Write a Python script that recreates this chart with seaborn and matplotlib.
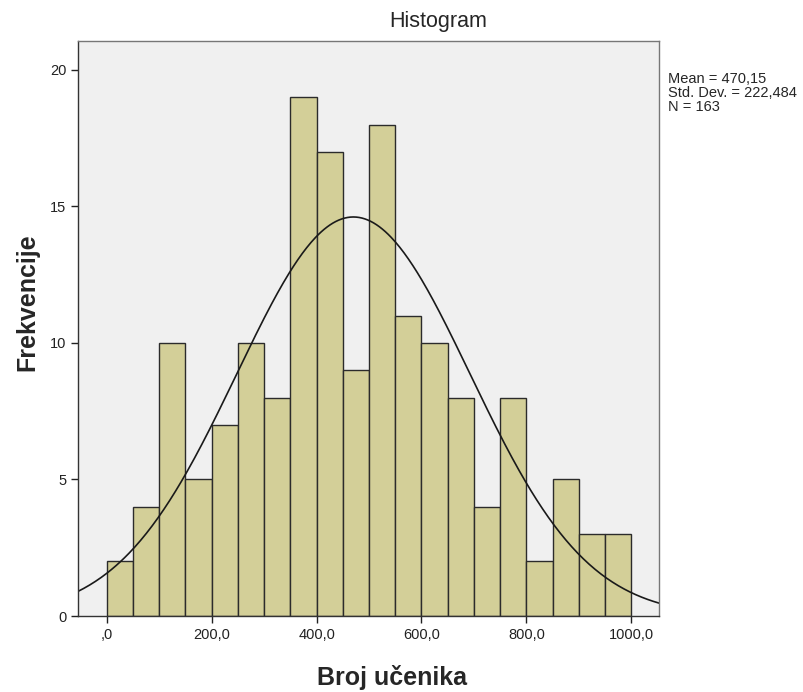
import numpy as np
import pandas as pd
import matplotlib
matplotlib.use("Agg")
import matplotlib.pyplot as plt
import seaborn as sns

# histogram bins (width 50) and frequencies
bin_edges = list(range(0, 1050, 50))
counts = [2, 4, 10, 5, 7, 10, 8, 19, 17, 9, 18, 11, 10, 8, 4, 8, 2, 5, 3, 3]
mean = 470.15
std_dev = 222.484
n_total = 163

x_ticks = [0, 200, 400, 600, 800, 1000]
x_tick_labels = [",0", "200,0", "400,0", "600,0", "800,0", "1000,0"]
y_ticks = [0, 5, 10, 15, 20]

sns.set_style("white")
plt.rcParams["font.family"] = ["Liberation Sans", "DejaVu Sans"]

df = pd.DataFrame({
    "centre": [e + 25 for e in bin_edges[:-1]],
    "count": counts,
})

fig = plt.figure(figsize=(8.04, 6.92), dpi=100)
ax = fig.add_axes([0.097, 0.1098, 0.7227, 0.831])
ax.set_facecolor("#F0F0F0")

sns.histplot(data=df, x="centre", weights="count", bins=bin_edges,
             color="#D3CF98", edgecolor="#2b2b2b", linewidth=1.0,
             alpha=1.0, ax=ax)

# normal curve scaled to counts
xs = np.linspace(-55, 1053, 400)
ys = n_total * 50 / (std_dev * np.sqrt(2 * np.pi)) * np.exp(-0.5 * ((xs - mean) / std_dev) ** 2)
sns.lineplot(x=xs, y=ys, color="#1a1a1a", linewidth=1.2, ax=ax)

ax.set_xlim(-55, 1053)
ax.set_ylim(0, 21.06)
ax.set_xticks(x_ticks)
ax.set_xticklabels(x_tick_labels)
ax.set_yticks(y_ticks)
ax.tick_params(axis="both", direction="out", length=5, width=1,
               labelsize=10.5, colors="#222222", bottom=True, left=True)
for side in ["top", "right", "left", "bottom"]:
    ax.spines[side].set_color("#333333")
    ax.spines[side].set_linewidth(1.0)
ax.spines["top"].set_color("#777777")
ax.spines["right"].set_color("#777777")
ax.set_xlabel("")
ax.set_ylabel("")

fig.text(392 / 804, 1 - 678 / 692, "Broj učenika", ha="center", va="center",
         fontsize=18, fontweight="bold")
fig.text(27 / 804, 1 - 302 / 692, "Frekvencije", ha="center", va="center",
         rotation=90, fontsize=18, fontweight="bold")
fig.text(438 / 804, 1 - 22 / 692, "Histogram", ha="center", va="center",
         fontsize=15.5, fontweight="medium")
fig.text(668 / 804, 1 - 72 / 692,
         f"Mean = 470,15\nStd. Dev. = 222,484\nN = {n_total}",
         ha="left", va="top", fontsize=10.5, linespacing=1.0)

fig.savefig("out.png", dpi=100)
